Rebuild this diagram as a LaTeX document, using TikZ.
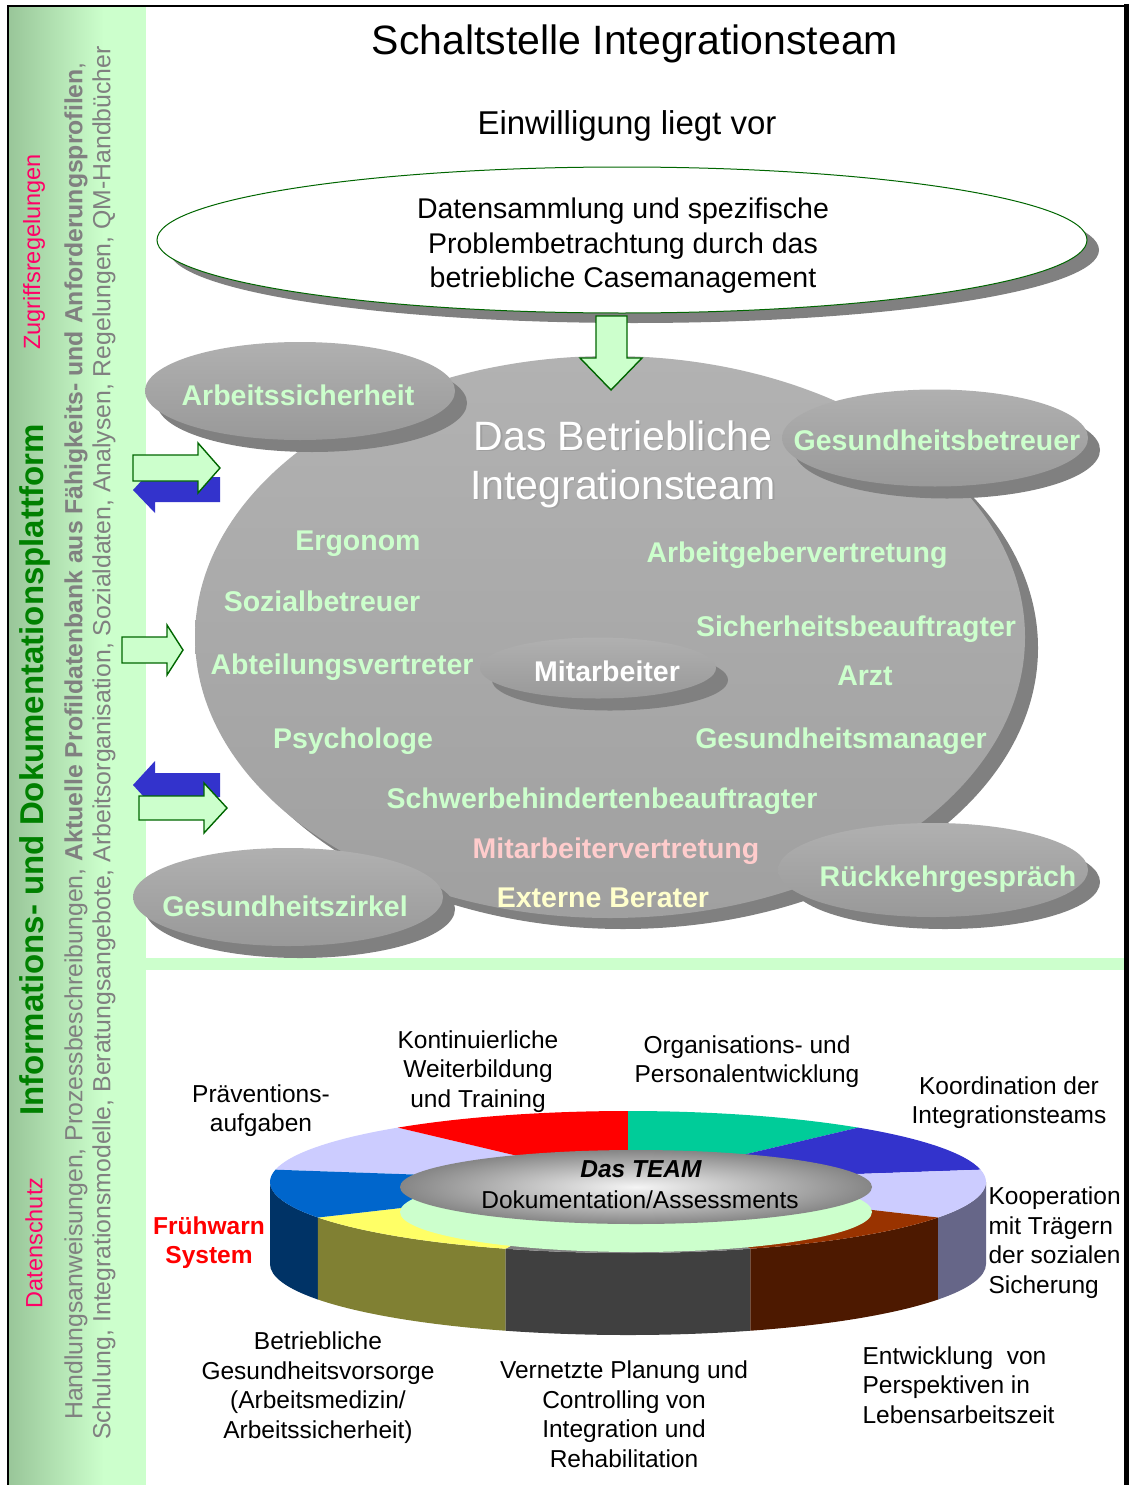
\documentclass[tikz,border=0pt]{standalone}
\usepackage{fontspec}
\setmainfont{Liberation Sans}
\usetikzlibrary{shapes.geometric,shadows}

\definecolor{lgreen}{HTML}{CCFFCC}
\definecolor{sidegreen}{HTML}{99C699}
\definecolor{dgreen}{HTML}{006600}
\definecolor{titlegreen}{HTML}{008000}
\definecolor{pinkred}{HTML}{FF0066}
\definecolor{sidegray}{HTML}{808080}
\definecolor{shadowgray}{HTML}{808080}
\definecolor{arrowblue}{HTML}{3333CC}
\definecolor{lpink}{HTML}{FFCCCC}
\definecolor{lyellow}{HTML}{FFFFCC}
\definecolor{ellTop}{HTML}{B0B0B0}
\definecolor{ellBot}{HTML}{999999}
\definecolor{teamTop}{HTML}{B2B2B2}
\definecolor{teamBot}{HTML}{A0A0A0}
% ring colours, top faces
\definecolor{lav}{HTML}{CCCCFF}
\definecolor{rred}{HTML}{FF0000}
\definecolor{teal}{HTML}{00CC99}
\definecolor{rblue}{HTML}{3333CC}
\definecolor{brownT}{HTML}{993300}
\definecolor{grayT}{HTML}{808080}
\definecolor{yellowT}{HTML}{FFFF66}
\definecolor{navyT}{HTML}{0066CC}
% ring colours, side faces
\definecolor{navyS}{HTML}{003366}
\definecolor{oliveS}{HTML}{808033}
\definecolor{dgrayS}{HTML}{404040}
\definecolor{brownS}{HTML}{4D1900}
\definecolor{lavS}{HTML}{666688}

\begin{document}
\begin{tikzpicture}[x=1pt,y=-1pt,
  grayell/.style={ellipse, inner sep=0pt, top color=ellTop, bottom color=ellBot,
    drop shadow={shadow xshift=12pt, shadow yshift=-12pt, fill=shadowgray, opacity=1}},
  greenlbl/.style={text=lgreen, font=\fontsize{28.5}{34}\selectfont\bfseries, anchor=base},
  ringlbl/.style={font=\fontsize{24.5}{29.5}\selectfont, align=center},
  sidetxt/.style={rotate=90, text=sidegray, font=\fontsize{24.8}{28}\selectfont, inner sep=0pt},
  greenarrow/.style={fill=lgreen, draw=dgreen, line width=1.4pt, line join=miter},
  bluearrow/.style={fill=arrowblue, draw=none},
]
\useasboundingbox (0,0) rectangle (1129,1485);
\fill[white] (0,0) rectangle (1129,1485);

% ---------- left information bar ----------
\shade[left color=sidegreen, right color=lgreen] (9,7) rectangle (104,1485);
\fill[lgreen] (103,7) rectangle (146,1485);
% separator band
\fill[lgreen] (146,958) rectangle (1124,970);

\node[rotate=90, text=pinkred, font=\fontsize{23.5}{26}\selectfont, inner sep=0pt] (ds) at (34,1243) {Datenschutz};
\node[rotate=90, text=titlegreen, font=\fontsize{33}{36}\selectfont\bfseries, inner sep=0pt] (plat) at (35,770) {Informations- und Dokumentationsplattform};
\node[rotate=90, text=pinkred, font=\fontsize{23.5}{26}\selectfont, inner sep=0pt] (zr) at (34,252) {Zugriffsregelungen};
\node[sidetxt, anchor=west] (col2) at (76,1420) {Handlungsanweisungen, Prozessbeschreibungen, \textbf{Aktuelle Profildatenbank aus F\"ahigkeits- und Anforderungsprofilen},};
\node[sidetxt, anchor=west] (col3) at (104,1440) {Schulung, Integrationsmodelle, Beratungsangebote, Arbeitsorganisation, Sozialdaten, Analysen, Regelungen, QM-Handb\"ucher};

% ---------- frame ----------
\draw[line width=2.5pt] (8,1485) -- (8,6) -- (1126,6);
\draw[line width=5pt] (1126,4) -- (1126,1485);

% ---------- headings ----------
\node[font=\fontsize{41}{46}\selectfont, anchor=base] (title) at (635,55) {Schaltstelle Integrationsteam};
\node[font=\fontsize{33}{38}\selectfont, anchor=base] (consent) at (627,135) {Einwilligung liegt vor};

% ---------- case management ellipse ----------
\node[ellipse, fill=white, draw=dgreen, line width=1pt, minimum width=930pt, minimum height=146pt, inner sep=0pt,
  drop shadow={shadow xshift=12pt, shadow yshift=-10pt, fill=shadowgray, opacity=1}] (cm) at (622,240) {};
\node[font=\fontsize{28.5}{34.5}\selectfont, align=center] (cmtext) at (623,246) {Datensammlung und spezifische\\Problembetrachtung durch das\\betriebliche Casemanagement};

% ---------- team ellipse ----------
\node[ellipse, inner sep=0pt, minimum width=830pt, minimum height=562pt,
  top color=teamTop, bottom color=teamBot,
  drop shadow={shadow xshift=13pt, shadow yshift=-11pt, fill=shadowgray, opacity=1}] (team) at (610,637) {};

% down arrow from the case management into the team
\path[greenarrow] (596,316) -- (627,316) -- (627,358) -- (642,358) -- (611,390) -- (580,358) -- (596,358) -- cycle;

% satellite ellipses
\node[grayell, minimum width=310pt, minimum height=98pt] (as) at (300,391) {};
\node[grayell, minimum width=306pt, minimum height=97pt] (gb) at (935,438) {};
\node[grayell, minimum width=310pt, minimum height=98pt] (gz) at (288,897) {};
\node[grayell, minimum width=310pt, minimum height=94pt] (rk) at (933,870) {};
\node[grayell, minimum width=236pt, minimum height=61pt] (ma) at (598,668) {};

% team title
\node[text=gray!75, font=\fontsize{41}{49}\selectfont, align=center] at (624.5,465.5) {Das Betriebliche\\Integrationsteam};
\node[text=white, font=\fontsize{41}{49}\selectfont, align=center] (teamtitle) at (623,464) {Das Betriebliche\\Integrationsteam};

% members
\node[greenlbl] (l1) at (358,550) {Ergonom};
\node[greenlbl] (l2) at (797,562) {Arbeitgebervertretung};
\node[greenlbl] (l3) at (322,611) {Sozialbetreuer};
\node[greenlbl] (l4) at (856,636) {Sicherheitsbeauftragter};
\node[greenlbl] (l5) at (342,674) {Abteilungsvertreter};
\node[greenlbl, text=white] (l6) at (607,681) {Mitarbeiter};
\node[greenlbl] (l7) at (865,685) {Arzt};
\node[greenlbl] (l8) at (353,748) {Psychologe};
\node[greenlbl] (l9) at (841,748) {Gesundheitsmanager};
\node[greenlbl] (l10) at (602,808) {Schwerbehindertenbeauftragter};
\node[greenlbl, text=lpink] (l11) at (616,858) {Mitarbeitervertretung};
\node[greenlbl, text=lyellow] (l12) at (603,907) {Externe Berater};
\node[greenlbl] (l13) at (298,405) {Arbeitssicherheit};
\node[greenlbl] (l14) at (937,450) {Gesundheitsbetreuer};
\node[greenlbl] (l15) at (285,916) {Gesundheitszirkel};
\node[greenlbl] (l16) at (948,886) {R\"uckkehrgespr\"ach};

% ---------- exchange arrows ----------
\path[bluearrow] (220,477) -- (155,477) -- (155,466) -- (133,490) -- (155,513) -- (155,502) -- (220,502) -- cycle;
\path[greenarrow] (133,455) -- (198,455) -- (198,443) -- (220,468) -- (198,493) -- (198,481) -- (133,481) -- cycle;
\path[greenarrow] (122,637) -- (167,637) -- (167,625) -- (183,650) -- (167,675) -- (167,663) -- (122,663) -- cycle;
\path[bluearrow] (220,773) -- (155,773) -- (155,761) -- (133,785) -- (155,809) -- (155,797) -- (220,797) -- cycle;
\path[greenarrow] (139,796) -- (204,796) -- (204,783) -- (227,808) -- (204,833) -- (204,820) -- (139,820) -- cycle;

% ---------- ring of tasks ----------
\begin{scope}[shift={(628,1182)}, yscale=-1]
  \foreach \a/\b/\c in {-180/-150/navyS, -150/-110/oliveS, -110/-70/dgrayS, -70/-30/brownS, -30/0/lavS}
    \fill[\c] (\a:358 and 71) arc[start angle=\a, end angle=\b, x radius=358, y radius=71]
      -- ++(0,-82) arc[start angle=\b, end angle=\a, x radius=358, y radius=71] -- cycle;
  \foreach \a/\b/\c in {130/170/lav, 90/130/rred, 50/90/teal, 10/50/rblue, -30/10/lav,
                        -70/-30/brownT, -110/-70/grayT, -150/-110/yellowT, -190/-150/navyT}
    \fill[\c] (0,0) -- (\a:358 and 71) arc[start angle=\a, end angle=\b, x radius=358, y radius=71] -- cycle;
\end{scope}
\node[ellipse, fill=lgreen, minimum width=472pt, minimum height=80pt, inner sep=0pt] (hub) at (636,1212) {};
\node[ellipse, inner color=gray!8, outer color=gray!95, minimum width=472pt, minimum height=74pt, inner sep=0pt] (core) at (636,1187) {};
\node[font=\fontsize{24.5}{29}\selectfont\bfseries\itshape, anchor=base] (coreA) at (641,1177) {Das TEAM};
\node[font=\fontsize{24.5}{29}\selectfont, anchor=base] (coreB) at (640,1208) {Dokumentation/Assessments};

% ---------- ring labels ----------
\node[ringlbl] (r1) at (261,1110.5) {Pr\"aventions-\\aufgaben};
\node[ringlbl] (r2) at (478,1071.5) {Kontinuierliche\\Weiterbildung\\und Training};
\node[ringlbl] (r3) at (747,1061.5) {Organisations- und\\Personalentwicklung};
\node[ringlbl] (r4) at (1009,1102.5) {Koordination der\\Integrationsteams};
\node[ringlbl, align=left, anchor=west] (r5) at (985,1242.5) {Kooperation\\mit Tr\"agern\\der sozialen\\Sicherung};
\node[ringlbl, text=red, font=\fontsize{24.5}{29.5}\selectfont\bfseries] (r6) at (209,1242.5) {Fr\"uhwarn\\System};
\node[ringlbl] (r7) at (318,1387.5) {Betriebliche\\Gesundheitsvorsorge\\(Arbeitsmedizin/\\Arbeitssicherheit)};
\node[ringlbl] (r8) at (624,1414) {Vernetzte Planung und\\Controlling von\\Integration und\\Rehabilitation};
\node[ringlbl, align=left, anchor=west] (r9) at (859,1385) {Entwicklung\ \ von\\Perspektiven in\\Lebensarbeitszeit};
\end{tikzpicture}
\end{document}
